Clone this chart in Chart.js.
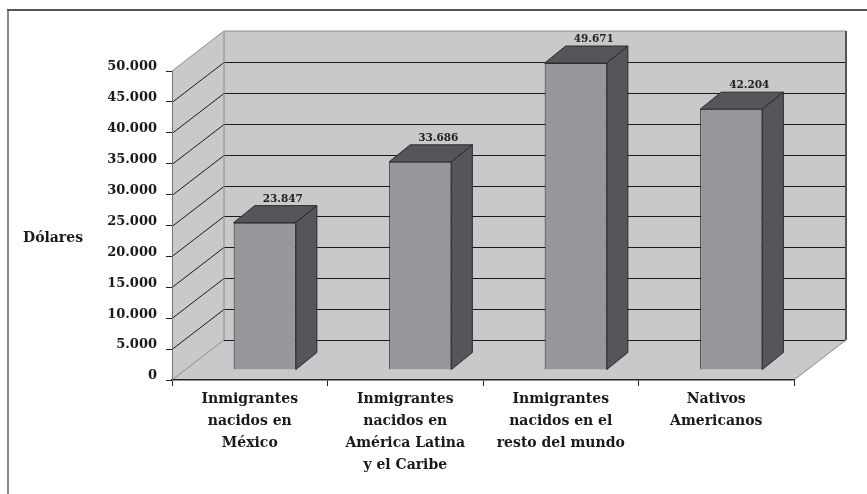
<!DOCTYPE html>
<html>
<head>
<meta charset="utf-8">
<script src="https://cdn.jsdelivr.net/npm/chart.js@4/dist/chart.umd.min.js"></script>
<style>
  html, body { margin: 0; padding: 0; background: #fff; }
  canvas { display: block; }
</style>
</head>
<body>
<canvas id="c" width="867" height="494"></canvas>
<script>
// Ingreso medio por grupo de origen (dólares)
const categories = [
  ['Inmigrantes', 'nacidos en', 'México'],
  ['Inmigrantes', 'nacidos en', 'América Latina', 'y el Caribe'],
  ['Inmigrantes', 'nacidos en el', 'resto del mundo'],
  ['Nativos', 'Americanos']
];
const ingresos = [23847, 33686, 49671, 42204];
const yTicks = [0, 5000, 10000, 15000, 20000, 25000, 30000, 35000, 40000, 45000, 50000];
const axisTitle = 'Dólares';

// Spanish thousands separator
function fmt(v) { return String(v).replace(/\B(?=(\d{3})+(?!\d))/g, '.'); }

// Oblique 3D look
const FLOOR = { x: 52, y: -40 };     // depth of walls and floor
const BAR_SHIFT = { x: 15, y: -10 }; // front face of bars inside the box
const BAR_DEPTH = { x: 21, y: -17 }; // depth of each bar
const WALL = '#c8c9cb';
const FRONT = '#96979b';
const SIDE = '#55565a';
const SERIF = '"DejaVu Serif", serif';

function path(ctx, pts) {
  ctx.beginPath();
  ctx.moveTo(pts[0][0], pts[0][1]);
  for (let i = 1; i < pts.length; i++) ctx.lineTo(pts[i][0], pts[i][1]);
  ctx.closePath();
}
function line(ctx, x1, y1, x2, y2) {
  ctx.beginPath(); ctx.moveTo(x1, y1); ctx.lineTo(x2, y2); ctx.stroke();
}

const box3d = {
  id: 'box3d',
  beforeDraw(chart) {
    const { ctx, chartArea: a, scales: { y } } = chart;
    ctx.save();
    ctx.fillStyle = '#fff';
    ctx.fillRect(0, 0, chart.width, chart.height);

    // page frame
    ctx.lineWidth = 2;
    ctx.strokeStyle = '#8a8a8a';
    line(ctx, 8, chart.height, 8, 10);
    ctx.strokeStyle = '#555';
    line(ctx, 7, 10, chart.width, 10);

    const L = a.left, R = a.right;
    const y0 = y.getPixelForValue(0), yT = y.getPixelForValue(y.max);
    const dx = FLOOR.x, dy = FLOOR.y;

    ctx.fillStyle = WALL;
    path(ctx, [[L + dx, y0 + dy], [R + dx, y0 + dy], [R + dx, yT + dy], [L + dx, yT + dy]]); ctx.fill();
    path(ctx, [[L, y0], [L + dx, y0 + dy], [L + dx, yT + dy], [L, yT]]); ctx.fill();
    path(ctx, [[L, y0], [R, y0], [R + dx, y0 + dy], [L + dx, y0 + dy]]); ctx.fill();

    // gridlines on back and side walls
    ctx.strokeStyle = '#1a1a1a';
    ctx.lineWidth = 1;
    yTicks.forEach(v => {
      if (v >= y.max) return;
      const p = Math.round(y.getPixelForValue(v)) + 0.5;
      line(ctx, L + dx, p + dy, R + dx, p + dy);
      if (v > 0) line(ctx, L, p, L + dx, p + dy);
    });

    // wall edges
    ctx.strokeStyle = '#8c8c8c';
    ctx.lineWidth = 1;
    ctx.beginPath();
    ctx.moveTo(L, yT); ctx.lineTo(L + dx, yT + dy); ctx.lineTo(R + dx, yT + dy);
    ctx.stroke();
    line(ctx, L, y0, L + dx, y0 + dy);
    line(ctx, R, y0, R + dx, y0 + dy);
    line(ctx, L + dx, y0 + dy, L + dx, yT + dy);
    ctx.strokeStyle = '#555';
    ctx.lineWidth = 2;
    line(ctx, R + dx, yT + dy, R + dx, y0 + dy);

    // horizontal axis title
    ctx.fillStyle = '#1a1a1a';
    ctx.font = 'bold 14px ' + SERIF;
    ctx.textAlign = 'left';
    ctx.textBaseline = 'middle';
    ctx.fillText(axisTitle, 23, 238);
    ctx.restore();
  },
  beforeDatasetsDraw(chart) {
    chart.ctx.save();
    chart.ctx.translate(BAR_SHIFT.x, BAR_SHIFT.y);
  },
  afterDatasetsDraw(chart) {
    const ctx = chart.ctx;
    ctx.restore();
    const meta = chart.getDatasetMeta(0);
    const data = chart.data.datasets[0].data;
    ctx.save();
    meta.data.forEach((bar, i) => {
      const { x, y, base, width } = bar.getProps(['x', 'y', 'base', 'width'], true);
      const l = x - width / 2 + BAR_SHIFT.x, r = x + width / 2 + BAR_SHIFT.x;
      const t = y + BAR_SHIFT.y, b = base + BAR_SHIFT.y;
      const ddx = BAR_DEPTH.x, ddy = BAR_DEPTH.y;
      ctx.fillStyle = SIDE;
      ctx.strokeStyle = '#2b2b2b';
      ctx.lineWidth = 1;
      path(ctx, [[l, t], [r, t], [r + ddx, t + ddy], [l + ddx, t + ddy]]);
      ctx.fill(); ctx.stroke();
      path(ctx, [[r, t], [r + ddx, t + ddy], [r + ddx, b + ddy], [r, b]]);
      ctx.fill(); ctx.stroke();

      ctx.fillStyle = '#222';
      ctx.font = 'bold 10.5px ' + SERIF;
      ctx.textAlign = 'center';
      ctx.textBaseline = 'alphabetic';
      ctx.fillText(fmt(data[i]), x + BAR_SHIFT.x + 18, t + ddy - 4);
    });
    ctx.restore();
  }
};

new Chart(document.getElementById('c'), {
  type: 'bar',
  data: {
    labels: categories,
    datasets: [{
      data: ingresos,
      backgroundColor: FRONT,
      borderColor: '#2b2b2b',
      borderWidth: 1,
      categoryPercentage: 1,
      barPercentage: 0.4,
      clip: false
    }]
  },
  options: {
    responsive: false,
    animation: false,
    devicePixelRatio: 1,
    layout: { padding: { top: 71, right: 73, left: 0, bottom: 0 } },
    plugins: { legend: { display: false }, tooltip: { enabled: false } },
    scales: {
      x: {
        offset: true,
        grid: { offset: true, drawOnChartArea: false, tickLength: 6, color: '#222' },
        border: { color: '#222', width: 1.5 },
        ticks: {
          color: '#1a1a1a',
          padding: 2,
          maxRotation: 0,
          autoSkip: false,
          font: { family: SERIF, size: 14, weight: 'bold', lineHeight: 1.57 }
        },
        afterFit(scale) { scale.height = 114; }
      },
      y: {
        min: 0,
        max: 50000,
        afterBuildTicks(scale) { scale.ticks = yTicks.map(v => ({ value: v })); },
        grid: { drawOnChartArea: false, tickLength: 6, color: '#222' },
        border: { color: '#777', width: 1 },
        ticks: {
          color: '#1a1a1a',
          padding: 9,
          labelOffset: -4,
          font: { family: SERIF, size: 13, weight: 'bold' },
          callback: v => fmt(v)
        },
        afterFit(scale) { scale.width = 172; }
      }
    }
  },
  plugins: [box3d]
});
</script>
</body>
</html>
